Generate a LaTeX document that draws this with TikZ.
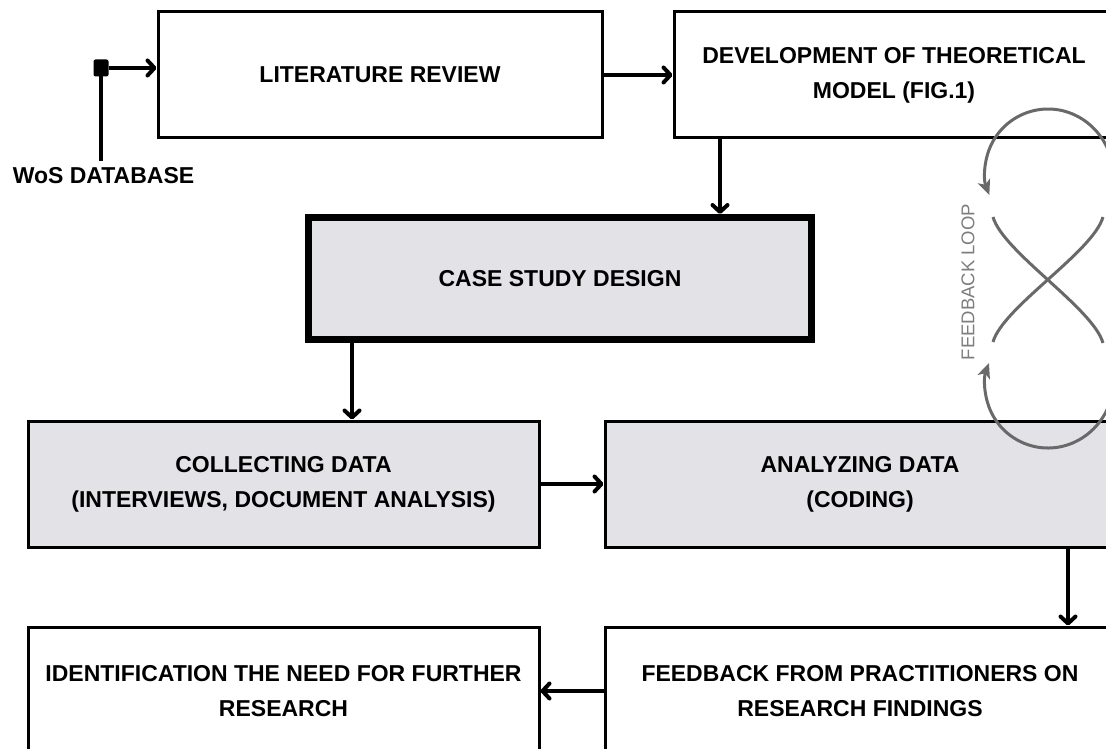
\documentclass[tikz,border=0pt]{standalone}
\usepackage{fontspec}
\setmainfont{Liberation Sans}
\usetikzlibrary{arrows.meta,calc}
\definecolor{boxgray}{RGB}{226,226,231}
\definecolor{loopgray}{RGB}{105,105,105}
\definecolor{looptext}{RGB}{125,125,125}
\begin{document}
\begin{tikzpicture}[x=1pt,y=1pt,
  boxtext/.style={font=\fontsize{23}{35}\selectfont\bfseries, align=center, inner sep=0pt},
  plainbox/.style={boxtext, draw=black, line width=3pt, minimum height=126pt},
  graybox/.style={plainbox, fill=boxgray},
  arr/.style={line width=4pt, -{Straight Barb[length=7pt,width=15pt,round]}},
  looparc/.style={loopgray, line width=3pt},
  looptip/.style={{Stealth[length=15pt,width=13pt,inset=4pt]}-{Stealth[length=15pt,width=13pt,inset=4pt]}}
]
\useasboundingbox (0,0) rectangle (1106,-749);
\clip (0,0) rectangle (1106,-749);

% boxes
\node[plainbox, minimum width=444pt] (lit) at (380,-75) {LITERATURE REVIEW};
\node[plainbox, minimum width=440pt] (dev) at (894,-75) {DEVELOPMENT OF THEORETICAL\\MODEL (FIG.1)};
\node[graybox, line width=7pt, minimum width=503pt, minimum height=122pt] (case) at (560,-278.5) {CASE STUDY DESIGN};
\node[graybox, minimum width=511pt] (collect) at (283.5,-484) {COLLECTING DATA\\(INTERVIEWS, DOCUMENT ANALYSIS)};
\node[graybox, minimum width=510pt] (analyze) at (860,-484) {ANALYZING DATA\\(CODING)};
\node[plainbox, minimum width=511pt, minimum height=128pt] (ident) at (283.5,-691) {IDENTIFICATION THE NEED FOR FURTHER\\RESEARCH};
\node[plainbox, minimum width=510pt, minimum height=128pt] (feed) at (860,-691) {FEEDBACK FROM PRACTITIONERS ON\\RESEARCH FINDINGS};

% WoS source
\node[fill=black, minimum width=15pt, minimum height=17pt, rounded corners=2pt, inner sep=0pt] (sq) at (101,-68) {};
\node[boxtext] (wos) at (103.5,-176) {WoS DATABASE};
\coordinate (wosend) at (101,-161);
\draw[line width=4pt] (sq.center) -- (wosend);
\draw[arr] (sq.east) -- (sq -| lit.west);

% connectors
\coordinate (d2c) at (720,0);
\coordinate (c2c) at (352,0);
\coordinate (a2f) at (1068,0);
\draw[arr] (lit.east) -- (dev.west);
\draw[arr] (dev.south -| d2c) -- (case.north -| d2c);
\draw[arr] (case.south -| c2c) -- (collect.north -| c2c);
\draw[arr] (collect.east) -- (analyze.west);
\draw[arr] (analyze.south -| a2f) -- (feed.north -| a2f);
\draw[arr] (feed.west) -- (ident.east);

% feedback loop
\draw[looparc, looptip] (1106.66,-194.99) arc[start angle=-21.4, end angle=201.4, radius=63];
\draw[looparc, looptip] (1107.05,-363.04) arc[start angle=20.4, end angle=-200.4, radius=63];
\draw[looparc] (993,-217) .. controls (1003,-252) and (1093,-308) .. (1103,-343);
\draw[looparc] (993,-342) .. controls (1003,-307) and (1093,-252) .. (1103,-217);
\node[rotate=90, text=looptext, font=\fontsize{18.5}{20}\selectfont, inner sep=0pt] (fl) at (968,-282) {FEEDBACK LOOP};
\end{tikzpicture}
\end{document}
